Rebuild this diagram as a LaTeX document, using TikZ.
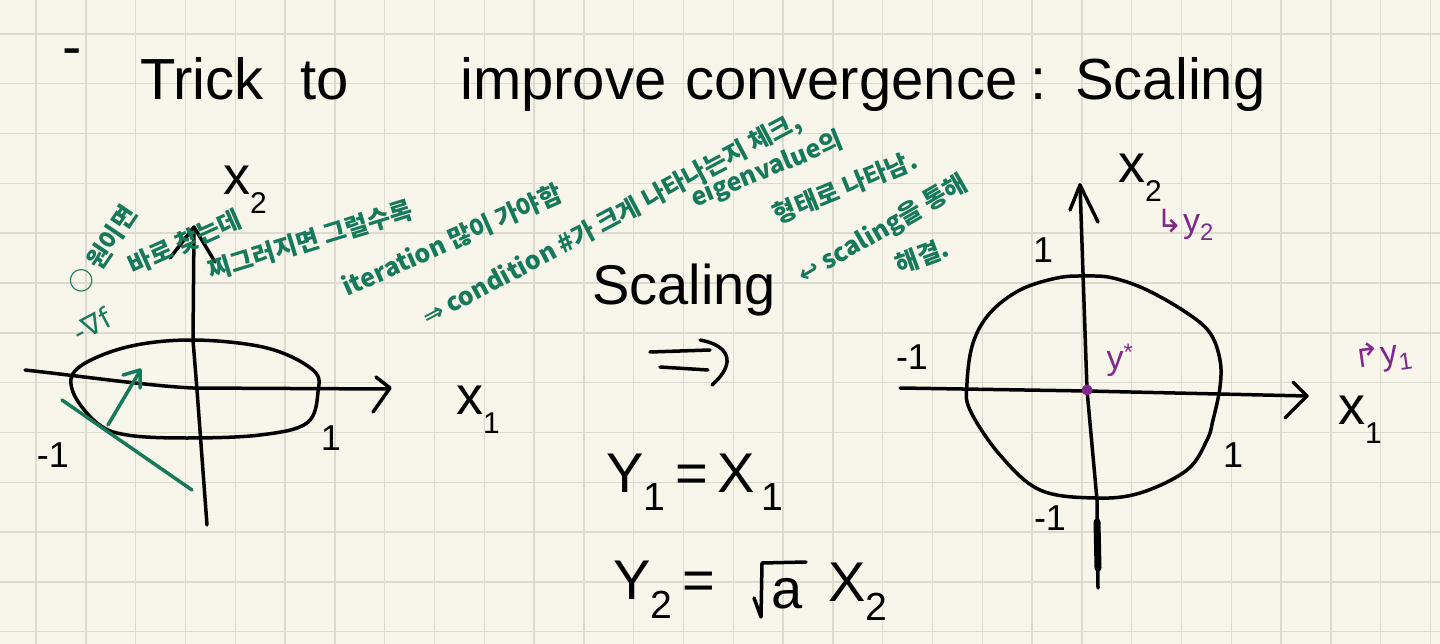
\documentclass[tikz,border=0pt]{standalone}
\usepackage{fontspec}
\setmainfont{Liberation Sans}
\newfontfamily\krfont{Noto Sans CJK KR}
\newfontfamily\symfont{DejaVu Sans}
\definecolor{paper}{HTML}{F8F5EA}
\definecolor{gridc}{HTML}{DEDACE}
\definecolor{grn}{RGB}{23,121,91}
\definecolor{prp}{RGB}{128,40,140}
\newcommand\axlab[1]{x\raisebox{-0.35em}{\fontsize{30}{30}\selectfont #1}}
\tikzset{
  ink/.style={line width=3.5pt, line cap=round, line join=round, draw=black},
  gink/.style={ink, draw=grn},
  gridline/.style={line width=1.4pt, draw=gridc},
  title/.style={font=\fontsize{58}{58}\selectfont, inner sep=0pt, anchor=base west},
  lbl/.style={font=\fontsize{36}{36}\selectfont, inner sep=0pt},
  axl/.style={font=\fontsize{54}{54}\selectfont, inner sep=0pt},
  big/.style={font=\fontsize{56}{56}\selectfont, inner sep=0pt},
  gtxt/.style={text=grn, font=\krfont\bfseries\fontsize{25}{25}\selectfont, inner sep=0pt},
  ptxt/.style={text=prp, font=\fontsize{34}{34}\selectfont, inner sep=0pt},
}
\begin{document}
\begin{tikzpicture}[x=1pt,y=-1pt]
\fill[paper] (0,0) rectangle (1440,644);
\useasboundingbox (0,0) rectangle (1440,644);
% grid
\foreach \i in {-1,...,28} {\draw[gridline] ({36+49.8*\i},0) -- ({36+49.8*\i},644);}
\foreach \j in {-1,...,13} {\draw[gridline] (0,{34+49.8*\j}) -- (1440,{34+49.8*\j});}

% title
\node[title, anchor=center] (dash) at (72,58) {-};
\node[title] (w1) at (140,100) {Trick};
\node[title] (w2) at (300,100) {to};
\node[title] (w3) at (460,100) {improve};
\node[title] (w4) at (685,100) {convergence};
\node[title] (w5) at (1030,100) {:};
\node[title] (w6) at (1075,100) {Scaling};

% ---------- left diagram ----------
\draw[ink] plot[smooth cycle, tension=0.6] coordinates {
  (78,368) (127,347) (193,340) (267,348) (313,370) (318,392) (307,423)
  (260,435) (187,438) (127,435) (97,423) (73,392)};
\draw[ink] (25,370) .. controls (80,376) and (150,386) .. (193,388) -- (388,389);
\draw[ink] (376,377) -- (390,388) -- (373,412);
\draw[ink] (207,525) -- (197,390) -- (193,340) -- (194,228);
\draw[ink] (170,258) -- (194,227) -- (215,262);
\node[lbl] (lm1) at (53,455) {-1};
\node[lbl] (lp1) at (331,438) {1};
\node[axl] (lx1) at (478,410) {\axlab{1}};
\node[axl] (lx2) at (245,190) {\axlab{2}};
% green gradient
\draw[gink] (62,400) -- (192,490);
\draw[gink] (108,425) -- (140,371);
\draw[gink] (123,375) -- (140,370) -- (140,388);
\node[gtxt, font=\symfont\fontsize{28}{28}\selectfont, rotate=28] (gf) at (92,325) {-∇f};

% green notes
\node[gtxt, rotate=56] (n1) at (103,250) {○ 원이면};
\node[gtxt, rotate=24] (n2) at (185,242) {바로 찾는데};
\node[gtxt, rotate=17] (n3) at (310,240) {찌그러지면 그럴수록};
\node[gtxt, rotate=24] (n4) at (452,240) {iteration 많이 가야함};
\node[gtxt, rotate=28] (n5) at (612,220) {{\symfont ⇒} condition \#가 크게 나타나는지 체크,};
\node[gtxt, rotate=22] (n6) at (767,170) {eigenvalue의};
\node[gtxt, rotate=22] (n7) at (845,187) {형태로 나타남.};
\node[gtxt, rotate=30] (n8) at (883,230) {{\symfont ↩} scaling을 통해};
\node[gtxt, rotate=20] (n9) at (922,256) {해결.};

% ---------- middle ----------
\node[big] (sc) at (684,290) {Scaling};
\draw[ink] (650,352) -- (710,350);
\draw[ink] (660,367) -- (708,370);
\draw[ink] (700,340) .. controls (728,345) and (738,362) .. (712,385);
\node[big] (eq1) at (695,482) {Y\textsubscript{1}\,=\,X\textsubscript{\,1}};
\node[big, anchor=east] (eq2a) at (715,590) {Y\textsubscript{2}\,=};
\draw[ink] (754,598) -- (761,617) -- (762,563) -- (806,562);
\node[big] (eq2b) at (787,594) {a};
\node[big] (eq2c) at (858,592) {X\textsubscript{2}};

% ---------- right diagram ----------
\draw[ink] plot[smooth cycle, tension=0.6] coordinates {
  (1087,276) (1113,278) (1147,290) (1187,313) (1210,333) (1220,360) (1220,387)
  (1213,420) (1207,440) (1187,470) (1140,493) (1095,498) (1040,490) (1000,455)
  (970,410) (967,383) (973,343) (990,313) (1020,290) (1057,278)};
\draw[ink] (900,388) -- (1087,391) -- (1307,396);
\draw[ink] (1293,382) -- (1307,396) -- (1285,418);
\draw[ink] (1080,185) -- (1087,390) -- (1097,500) -- (1098,588);
\draw[ink] (1070,210) -- (1080,185) -- (1098,222);
\draw[ink, line width=7pt] (1097,522) -- (1098,568);
\node[lbl] (rp1) at (1043,250) {1};
\node[lbl] (rm1) at (912,357) {-1};
\node[lbl] (rp1b) at (1233,455) {1};
\node[lbl] (rm1b) at (1050,518) {-1};
\node[axl] (rx2) at (1140,178) {\axlab{2}};
\node[axl] (rx1) at (1360,420) {\axlab{1}};
% purple
\fill[prp] (1087,390) circle (5.5);
\node[ptxt] (ys) at (1120,360) {y\textsuperscript{*}};
\node[ptxt] (y2) at (1185,225) {{\symfont\fontsize{32}{32}\selectfont ↳}y\textsubscript{2}};
\node[ptxt, rotate=8] (y1) at (1383,357) {{\symfont\fontsize{32}{32}\selectfont ↱}y\textsubscript{1}};
\end{tikzpicture}
\end{document}
